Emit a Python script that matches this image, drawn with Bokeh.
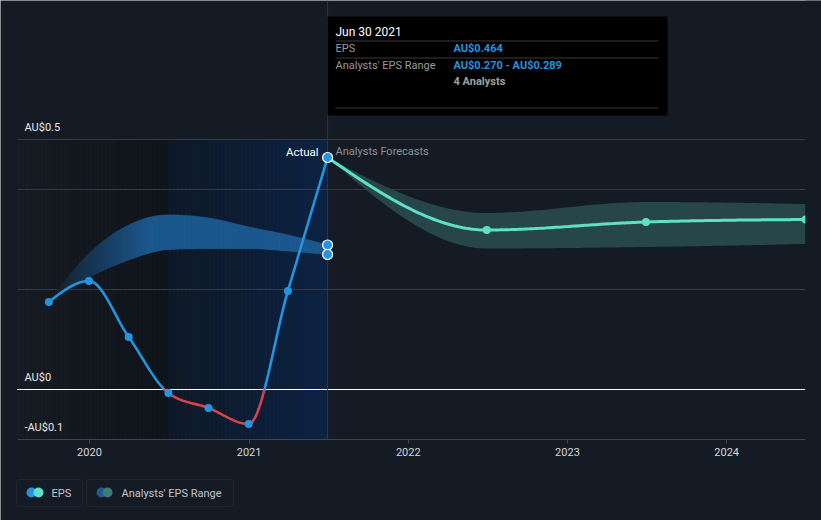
import numpy as np
import pandas as pd
from bokeh.plotting import figure
from bokeh.models import Label, BoxAnnotation, FixedTicker, DatetimeTickFormatter, Range1d
from bokeh.embed import file_html
from bokeh.resources import INLINE

# ---------------- data ----------------
eps_dates = ["2019-09-30", "2019-12-31", "2020-03-31", "2020-06-30",
             "2020-09-30", "2020-12-31", "2021-03-31", "2021-06-30"]
eps_values = [0.175, 0.217, 0.105, -0.007, -0.037, -0.069, 0.197, 0.464]

range_dates = ["2019-09-30", "2019-12-31", "2020-03-31", "2020-06-30",
               "2020-09-30", "2020-12-31", "2021-03-31", "2021-06-30"]
range_low = [0.175, 0.224, 0.259, 0.280, 0.282, 0.282, 0.277, 0.270]
range_high = [0.175, 0.272, 0.329, 0.349, 0.343, 0.325, 0.309, 0.289]

fc_dates = ["2021-06-30", "2022-06-30", "2023-06-30", "2024-06-30"]
fc_values = [0.464, 0.319, 0.335, 0.340]
fc_low = [0.464, 0.282, 0.285, 0.291]
fc_high = [0.464, 0.353, 0.375, 0.371]

year_ticks = [2020, 2021, 2022, 2023, 2024]
grid_values = [0.5, 0.4, 0.2]
y_tick_labels = [(0.5, "AU$0.5"), (0.0, "AU$0"), (-0.1, "-AU$0.1")]
y_floor = -0.1
past_start, past_split, past_end = "2019-07-20", "2020-06-30", "2021-06-30"
view_end = "2024-06-29"

# ---------------- styling ----------------
BG = "#151b24"
GRID = "#353a44"
BLUE = "#2394df"
RED = "#d9434f"
TEAL = "#5ee0c8"
FONT = "Roboto"

W, H = 821, 520
PX_PER_DAY = 0.43614      # horizontal scale
PX_PER_UNIT = 500.0       # vertical scale
AXIS_Y = 439              # page y of the x axis (value y_floor)
FRAME_L = 17              # page x of the view start


def ms(d):
    return pd.Timestamp(d).value / 1e6


def hex2rgb(h):
    h = h.lstrip("#")
    return np.array([int(h[i:i + 2], 16) for i in (0, 2, 4)], float)


def mix(c1, c2, t):
    a, b = hex2rgb(c1), hex2rgb(c2)
    c = a + (b - a) * t
    return "#%02x%02x%02x" % tuple(int(round(v)) for v in c)


def monotone(x, y, n=40):
    """Monotone cubic (d3 curveMonotoneX) sampling for drawing smooth paths."""
    x = np.asarray(x, float)
    y = np.asarray(y, float)
    h = np.diff(x)
    s = np.diff(y) / h
    m = np.zeros_like(y)
    for i in range(1, len(x) - 1):
        s0, s1, h0, h1 = s[i - 1], s[i], h[i - 1], h[i]
        p_ = (s0 * h1 + s1 * h0) / (h0 + h1)
        m[i] = (np.sign(s0) + np.sign(s1)) * min(abs(s0), abs(s1), 0.5 * abs(p_))
    if len(x) > 2:
        m[0] = (3 * s[0] - m[1]) / 2
        m[-1] = (3 * s[-1] - m[-2]) / 2
    else:
        m[:] = s[0]
    xs, ys = [], []
    for i in range(len(x) - 1):
        t = np.linspace(0, 1, n, endpoint=(i == len(x) - 2))
        h00 = 2 * t**3 - 3 * t**2 + 1
        h10 = t**3 - 2 * t**2 + t
        h01 = -2 * t**3 + 3 * t**2
        h11 = t**3 - t**2
        xs.append(x[i] + t * h[i])
        ys.append(h00 * y[i] + h10 * h[i] * m[i] + h01 * y[i + 1] + h11 * h[i] * m[i + 1])
    return np.concatenate(xs), np.concatenate(ys)


# ---------------- figure (frame = whole canvas) ----------------
DAY = 86400000.0
xs0 = ms(past_start) - FRAME_L / PX_PER_DAY * DAY
xs1 = xs0 + W / PX_PER_DAY * DAY
ys0 = y_floor - (H - AXIS_Y) / PX_PER_UNIT
ys1 = ys0 + H / PX_PER_UNIT

p = figure(width=W, height=H, x_axis_type="datetime",
           x_range=Range1d(xs0, xs1), y_range=Range1d(ys0, ys1),
           output_backend="svg", toolbar_location=None, y_axis_location=None,
           min_border_left=0, min_border_right=0, min_border_top=0,
           min_border_bottom=0, min_border=0, background_fill_color=BG,
           border_fill_color=BG, outline_line_color=None)
p.xgrid.visible = False
p.ygrid.visible = False


def S(px, py):
    """page px -> screen units relative to frame (y up from frame bottom)"""
    return px, H - py


# shaded background regions (gradients as slices)
N = 40
x0, x1, x2 = ms(past_start), ms(past_split), ms(past_end)
edges = np.linspace(x0, x1, N + 1)
cols = [mix("#171b23", "#10141b", (i + 0.5) / N) for i in range(N)]
p.quad(left=edges[:-1], right=edges[1:], bottom=y_floor, top=grid_values[0],
       fill_color=cols, line_color=cols, line_width=0.8)
edges2 = np.linspace(x1, x2, N + 1)
cols2 = [mix("#0f1928", "#0c2343", (i + 0.5) / N) for i in range(N)]
p.quad(left=edges2[:-1], right=edges2[1:], bottom=y_floor, top=grid_values[0],
       fill_color=cols2, line_color=cols2, line_width=0.8)

# grid lines and zero line
xa, xb = ms(past_start), ms(view_end)
p.segment(x0=xa, x1=xb, y0=grid_values, y1=grid_values, line_color=GRID, line_width=1)
p.segment(x0=[xa - 1 * DAY], x1=[xb], y0=[0.0], y1=[0.0], line_color="#ffffff",
          line_width=1)

# crosshair at the tooltip date
p.segment(x0=[ms(eps_dates[-1])], x1=[ms(eps_dates[-1])], y0=[y_floor], y1=[ys1],
          line_color="#24395a", line_width=1)


def bg_at(x):
    if x < x1:
        return mix("#171b23", "#10141b", (x - x0) / (x1 - x0))
    return mix("#0f1928", "#0c2343", (x - x1) / (x2 - x1))


# past analysts' range band (fading in on the left)
rx = [ms(d) for d in range_dates]
bx, blo = monotone(rx, range_low, 30)
_, bhi = monotone(rx, range_high, 30)
BAND = "#1d5a8f"
full_at = ms("2020-05-15")
pxs, pys, pcols = [], [], []
for i in range(len(bx) - 1):
    xm = 0.5 * (bx[i] + bx[i + 1])
    t = np.clip(0.08 + 0.92 * (xm - rx[0]) / (full_at - rx[0]), 0, 1)
    c = mix(bg_at(xm), BAND, t)
    pxs.append([bx[i], bx[i + 1], bx[i + 1], bx[i]])
    pys.append([bhi[i], bhi[i + 1], blo[i + 1], blo[i]])
    pcols.append(c)
p.patches(pxs, pys, fill_color=pcols, line_color=pcols, line_width=0.7)

# forecast band
fx = [ms(d) for d in fc_dates]
fbx, fblo = monotone(fx, fc_low, 60)
_, fbhi = monotone(fx, fc_high, 60)
p.varea(x=fbx, y1=fblo, y2=fbhi, fill_color="#27464a")

# EPS line, red where negative
ex = [ms(d) for d in eps_dates]
lx, ly = monotone(ex, eps_values, 60)
segs_x, segs_y, segs_c = [], [], []
cur_x, cur_y = [lx[0]], [ly[0]]
for i in range(1, len(lx)):
    a, b = ly[i - 1], ly[i]
    if (a >= 0) != (b >= 0):
        t = a / (a - b)
        zx = lx[i - 1] + t * (lx[i] - lx[i - 1])
        cur_x.append(zx)
        cur_y.append(0.0)
        segs_x.append(cur_x)
        segs_y.append(cur_y)
        segs_c.append(BLUE if a >= 0 else RED)
        cur_x, cur_y = [zx], [0.0]
    cur_x.append(lx[i])
    cur_y.append(b)
segs_x.append(cur_x)
segs_y.append(cur_y)
segs_c.append(BLUE if ly[-1] >= 0 else RED)
p.multi_line(segs_x, segs_y, line_color=segs_c, line_width=2.6, line_cap="round")

# forecast line
flx, fly = monotone(fx, fc_values, 60)
p.line(flx, fly, line_color=TEAL, line_width=3)

# markers
p.scatter(ex[:-1], eps_values[:-1], size=8, fill_color=BLUE, line_color=None)
p.scatter(fx[1:], fc_values[1:], size=8, fill_color=TEAL, line_color=None)
p.scatter([ex[-1]] * 3, [eps_values[-1], range_high[-1], range_low[-1]], size=10,
          fill_color=BLUE, line_color="#ffffff", line_width=1.2)

# hide anything past the right edge of the view (as the reference clips there)
p.quad(left=[xb + 0.5 * DAY], right=[xs1], bottom=[ys0], top=[ys1],
       fill_color=BG, line_color=None)

# x axis, placed inside the canvas at the bottom of the value range
ax = p.xaxis[0]
ax.fixed_location = y_floor
ax.bounds = (xa, xb + 0.5 * DAY)
ax.ticker = FixedTicker(ticks=[ms(f"{y}-01-01") for y in year_ticks])
ax.formatter = DatetimeTickFormatter(years="%Y", months="%Y", days="%Y")
ax.axis_line_color = "#3f444d"
ax.major_tick_line_color = "#3f444d"
ax.major_tick_out = 4
ax.major_tick_in = 0
ax.minor_tick_line_color = None
ax.major_label_text_color = "#d4d7dc"
ax.major_label_text_font = FONT
ax.major_label_text_font_size = "11px"
ax.major_label_standoff = 4

# y tick labels inside the chart
for v, t in y_tick_labels:
    p.add_layout(Label(x=24, x_units="screen", y=v, y_offset=12, text=t,
                       text_baseline="middle", text_font=FONT, text_font_size="11px",
                       text_color="#e8e8e8"))

# Actual / Analysts Forecasts
ay = S(0, 151)[1]
p.add_layout(Label(x=ex[-1], x_offset=-9, y=ay, y_units="screen", text="Actual",
                   text_align="right", text_baseline="middle", text_font=FONT,
                   text_font_size="11.5px", text_color="#ffffff"))
p.add_layout(Label(x=ex[-1], x_offset=8, y=ay, y_units="screen", text="Analysts Forecasts",
                   text_align="left", text_baseline="middle", text_font=FONT,
                   text_font_size="11px", text_color="#8c9199"))


def box(l, t, r, b, **kw):
    L, T = S(l, t)
    R, B = S(r, b)
    p.add_layout(BoxAnnotation(left=L, right=R, top=T, bottom=B, left_units="screen",
                               right_units="screen", top_units="screen",
                               bottom_units="screen", **kw))


def label(px, py, text, **kw):
    x, y = S(px, py)
    opts = dict(text_baseline="middle", text_font=FONT, text_font_size="11px")
    opts.update(kw)
    p.add_layout(Label(x=x, y=y, x_units="screen", y_units="screen", text=text, **opts))


# tooltip
box(327, 16, 667, 115, fill_color="#000000", fill_alpha=1, line_color=None)
for yy in (40, 57, 107):
    box(335, yy, 658, yy + 1, fill_color="#3a3a3a", fill_alpha=1, line_color=None)
label(335, 31, "Jun 30 2021", text_color="#ffffff", text_font_size="12px")
label(335, 48, "EPS", text_color="#9a9a9a")
label(453, 48, "AU$%.3f" % eps_values[-1], text_color=BLUE, text_font_style="bold")
label(335, 65, "Analysts' EPS Range", text_color="#9a9a9a")
label(453, 65, "AU$%.3f - AU$%.3f" % (range_low[-1], range_high[-1]), text_color=BLUE,
      text_font_style="bold")
label(453, 81, "4 Analysts", text_color="#a0a0a0", text_font_style="bold")

# legend
box(16, 479, 82, 506, fill_alpha=0, line_color="#3b414b", line_width=1, border_radius=3)
box(86, 479, 233, 506, fill_alpha=0, line_color="#3b414b", line_width=1, border_radius=3)
for cx, col in ((31, BLUE), (38, TEAL), (101, "#1e5a8a"), (107, "#3d7b78")):
    box(cx - 5, 487, cx + 5, 497, fill_color=col, fill_alpha=1, line_color=None,
        border_radius=5)
label(51, 492.5, "EPS", text_color="#c2c6cc", text_font_size="11px")
label(121, 492.5, "Analysts' EPS Range", text_color="#c2c6cc", text_font_size="11px")

open("out.html", "w").write(file_html(p, INLINE))
